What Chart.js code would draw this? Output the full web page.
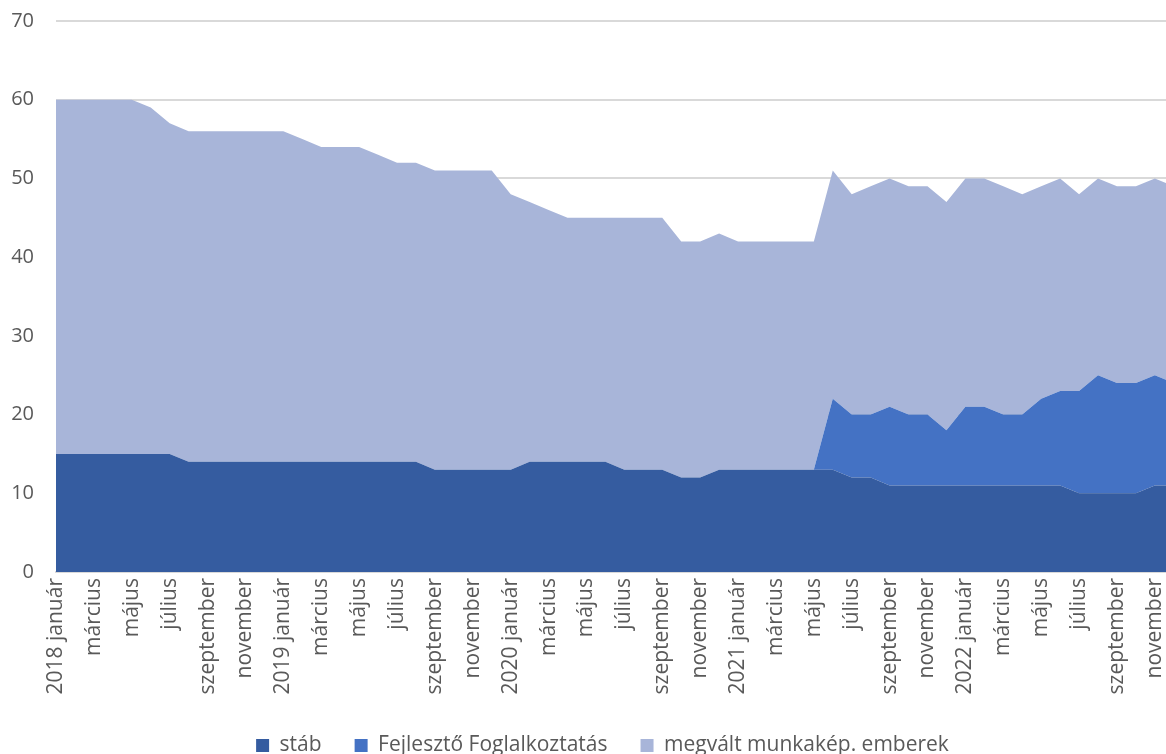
<!DOCTYPE html>
<html>
<head>
<meta charset="utf-8">
<script src="https://cdn.jsdelivr.net/npm/chart.js@4/dist/chart.umd.min.js"></script>
<style>
  html, body { margin: 0; padding: 0; background: #fff; overflow: hidden; }
  #wrap { width: 1205px; height: 754px; }
</style>
</head>
<body>
<div id="wrap"><canvas id="chart" width="1205" height="754"></canvas></div>
<script>
// adatok (havi létszám, 2018 január - 2022 december)
const honapok = ["január", "február", "március", "április", "május", "június",
  "július", "augusztus", "szeptember", "október", "november", "december"];
const evek = [2018, 2019, 2020, 2021, 2022];

const stab = [
  15, 15, 15, 15, 15, 15, 15, 14, 14, 14, 14, 14,
  14, 14, 14, 14, 14, 14, 14, 14, 13, 13, 13, 13,
  13, 14, 14, 14, 14, 14, 13, 13, 13, 12, 12, 13,
  13, 13, 13, 13, 13, 13, 12, 12, 11, 11, 11, 11,
  11, 11, 11, 11, 11, 11, 10, 10, 10, 10, 11, 11
];
const fejleszto = [
  0, 0, 0, 0, 0, 0, 0, 0, 0, 0, 0, 0,
  0, 0, 0, 0, 0, 0, 0, 0, 0, 0, 0, 0,
  0, 0, 0, 0, 0, 0, 0, 0, 0, 0, 0, 0,
  0, 0, 0, 0, 0, 9, 8, 8, 10, 9, 9, 7,
  10, 10, 9, 9, 11, 12, 13, 15, 14, 14, 14, 13
];
const megvalt = [
  45, 45, 45, 45, 45, 44, 42, 42, 42, 42, 42, 42,
  42, 41, 40, 40, 40, 39, 38, 38, 38, 38, 38, 38,
  35, 33, 32, 31, 31, 31, 32, 32, 32, 30, 30, 30,
  29, 29, 29, 29, 29, 29, 28, 29, 29, 29, 29, 29,
  29, 29, 29, 28, 27, 27, 25, 25, 25, 25, 25, 25
];
const yTicks = [0, 10, 20, 30, 40, 50, 60, 70];

// címkék: év csak januárnál
const labels = [];
evek.forEach(ev => {
  honapok.forEach((h, i) => labels.push(i === 0 ? ev + " " + h : h));
});

const FONT = "'Open Sans', 'Noto Sans', sans-serif";
const szurke = "#595959";

const ctx = document.getElementById("chart").getContext("2d");
new Chart(ctx, {
  type: "line",
  data: {
    labels: labels,
    datasets: [
      { label: "stáb", data: stab, backgroundColor: "#355CA0", borderColor: "#355CA0", fill: "origin" },
      { label: "Fejlesztő Foglalkoztatás", data: fejleszto, backgroundColor: "#4472C4", borderColor: "#4472C4", fill: "-1" },
      { label: "megvált munkakép. emberek", data: megvalt, backgroundColor: "#A8B5D9", borderColor: "#A8B5D9", fill: "-1" }
    ]
  },
  options: {
    responsive: false,
    animation: false,
    layout: { padding: { top: 21, right: 0, left: 0, bottom: -12 } },
    elements: {
      point: { radius: 0 },
      line: { tension: 0, borderWidth: 0 }
    },
    plugins: {
      tooltip: { enabled: false },
      legend: {
        position: "bottom",
        labels: {
          font: { family: FONT, size: 21 },
          color: szurke,
          boxWidth: 13,
          boxHeight: 13,
          padding: 33
        }
      }
    },
    scales: {
      x: {
        offset: false,
        afterFit: s => { s.height = 130; },
        grid: { display: false, drawTicks: false },
        border: { color: "#D9D9D9", width: 2 },
        ticks: {
          autoSkip: false,
          minRotation: 90,
          maxRotation: 90,
          padding: 6,
          color: szurke,
          font: { family: FONT, size: 21 },
          callback: function (val, i) {
            return i % 2 === 0 ? this.getLabelForValue(val) : "";
          }
        }
      },
      y: {
        stacked: true,
        min: 0,
        max: 70,
        afterBuildTicks: s => { s.ticks = yTicks.map(v => ({ value: v })); },
        afterFit: s => { s.width = 56; },
        grid: { color: "#D9D9D9", lineWidth: 2, drawTicks: true, tickLength: 22, tickColor: "rgba(0,0,0,0)" },
        border: { display: false },
        ticks: {
          padding: 0,
          color: szurke,
          font: { family: FONT, size: 20 }
        }
      }
    }
  }
});
</script>
</body>
</html>
